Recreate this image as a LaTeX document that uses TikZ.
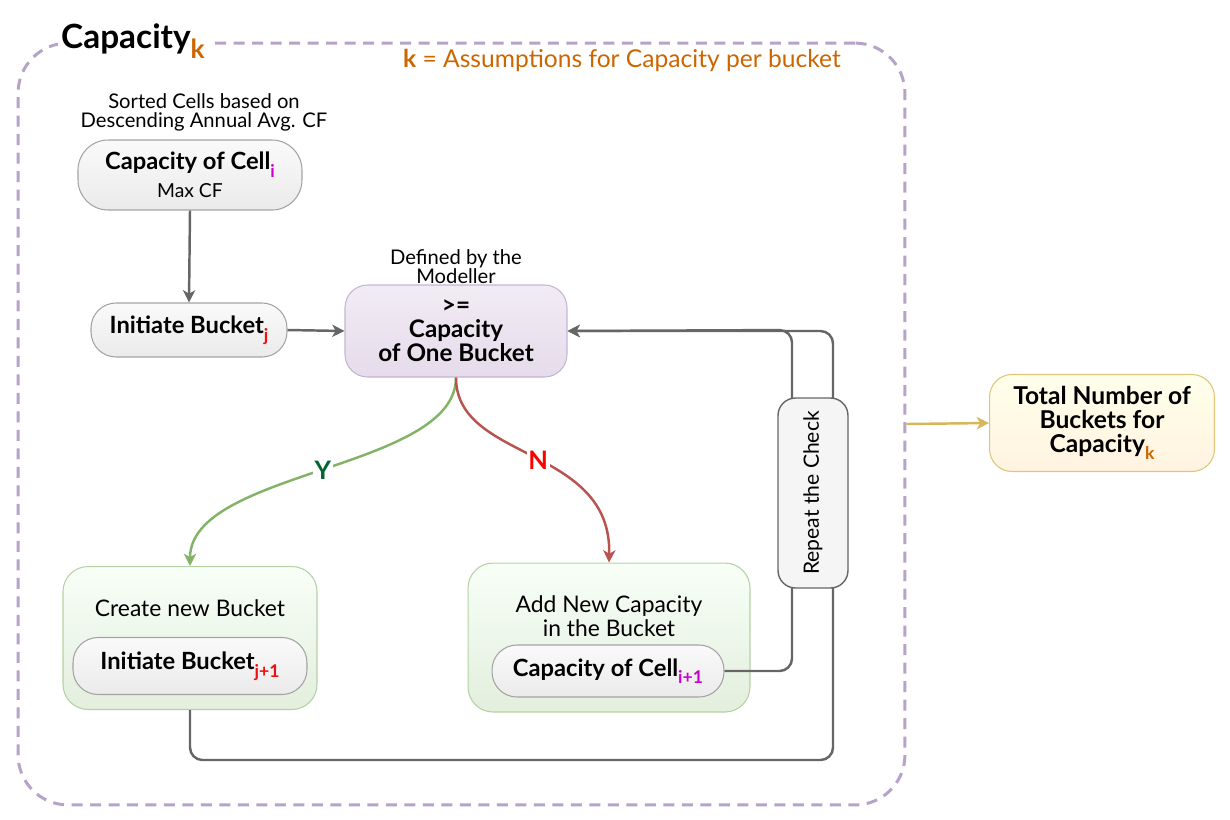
\documentclass[tikz,border=0pt]{standalone}
\usepackage{fontspec}
\setmainfont{Lato}
\usepackage{xcolor}
\usetikzlibrary{arrows.meta,positioning}

\definecolor{framepurple}{HTML}{B5A3C9}
\definecolor{noteorange}{HTML}{CC6600}
\definecolor{cellmag}{HTML}{CC00CC}
\definecolor{bktred}{HTML}{EE1111}
\definecolor{linegray}{HTML}{666666}
\definecolor{pillline}{HTML}{A3A3A3}
\definecolor{checkfill}{HTML}{E1D5E7}
\definecolor{yesgreen}{HTML}{82B366}
\definecolor{yesdark}{HTML}{006633}
\definecolor{nored}{HTML}{B85450}
\definecolor{totalline}{HTML}{D6B656}

% lowered coloured index
\newcommand{\lowidx}[3][10]{\raisebox{-0.32em}{\color{#2}\fontsize{#1}{#1}\selectfont #3}}

\begin{document}
\begin{tikzpicture}[x=0.02cm,y=-0.02cm,
  link/.style={draw=linegray, line width=1.4pt, -{Stealth[length=7pt,width=7pt,inset=2pt]}},
  pill/.style={draw=pillline, line width=0.6pt, top color=white!98!black, bottom color=white!92!black,
    rounded corners=0.5cm, align=center, font=\bfseries\fontsize{13.5}{15}\selectfont},
  checkbox/.style={draw=framepurple!80, line width=0.6pt, top color=checkfill!45!white, bottom color=checkfill!85!white,
    rounded corners=0.45cm, align=center, font=\bfseries\fontsize{13.8}{13.6}\selectfont},
  holder/.style={draw=yesgreen!60, line width=0.6pt, top color=green!3!white, bottom color=yesgreen!22,
    rounded corners=0.5cm},
  plain/.style={align=center, font=\fontsize{11.5}{10.8}\selectfont},
  holdtxt/.style={align=center, font=\fontsize{13}{13.5}\selectfont}]

\useasboundingbox (0,0) rectangle (1230,819);

% outer frame
\node[draw=framepurple, line width=1.7pt, dash pattern=on 0.22cm off 0.15cm,
  rounded corners=1cm, minimum width=17.74cm, minimum height=15.24cm, inner sep=0pt] (frame) at (461.5,424) {};
\node[fill=white, inner sep=2pt, font=\bfseries\fontsize{19}{22}\selectfont] (title) at (133,41)
  {Capacity\lowidx[15]{noteorange}{k}};
\node[text=noteorange, font=\fontsize{14}{16}\selectfont] (note) at (622,60)
  {\textbf{k} = Assumptions for Capacity per bucket};

% first cell
\node[plain] (sortlbl) at (204,112) {Sorted Cells based on\\Descending Annual Avg. CF};
\node[pill, minimum width=4.48cm, minimum height=1.4cm, rounded corners=0.6cm] (celli) at (190,175)
  {Capacity of Cell\lowidx{cellmag}{i}\\[1pt]{\mdseries\fontsize{11}{13}\selectfont Max CF}};
\node[pill, minimum width=3.92cm, minimum height=1.08cm] (initj) at (189,330)
  {Initiate Bucket\lowidx{bktred}{j}};

% check
\node[plain] (deflbl) at (456,267) {Defined by the\\Modeller};
\node[checkbox, minimum width=4.44cm, minimum height=1.84cm] (check) at (456,331)
  {>=\\Capacity\\of One Bucket};

\draw[link] (celli.south) -- (initj.north);
\draw[link] (initj.east) -- (check.west);

% new bucket
\node[holder, minimum width=5.08cm, minimum height=2.86cm] (newbkt) at (190,638) {};
\node[holdtxt] (newlbl) at (190,608) {Create new Bucket};
\node[pill, minimum width=4.68cm, minimum height=1.14cm] (initj1) at (190,666)
  {Initiate Bucket\lowidx{bktred}{j+1}};

% add capacity
\node[holder, minimum width=5.64cm, minimum height=2.98cm] (addcap) at (609,637.5) {};
\node[holdtxt] (addlbl) at (609,616) {Add New Capacity\\in the Bucket};
\node[pill, minimum width=4.64cm, minimum height=1.04cm] (celli1) at (608,671)
  {Capacity of Cell\lowidx{cellmag}{i+1}};

% Y / N branches
\draw[draw=yesgreen, line width=1.4pt, -{Stealth[length=7pt,width=7pt,inset=2pt]}]
  (check.south) .. controls (456,470) and (190,470) .. (newbkt.north)
  node[pos=0.5, fill=white, inner sep=1pt, text=yesdark, font=\bfseries\fontsize{14.5}{16}\selectfont] {Y};
\draw[draw=nored, line width=1.4pt, -{Stealth[length=7pt,width=7pt,inset=2pt]}]
  (check.south) .. controls (456,462) and (612,445) .. (addcap.north)
  node[pos=0.52, fill=white, inner sep=1pt, text=red, font=\bfseries\fontsize{14.5}{16}\selectfont] {N};

% loops back to the check
\coordinate (loopa) at (792,330);
\coordinate (loopb) at (833,760);
\draw[link, rounded corners=0.25cm] (celli1.east) -| (loopa) -- (check.east);
\draw[link, rounded corners=0.25cm] (initj1.south |- newbkt.south) |- (loopb) |- (check.east);

\node[draw=linegray, line width=0.8pt, fill=white!96!black, rounded corners=0.35cm, rotate=90,
  minimum width=3.8cm, minimum height=1.4cm, font=\fontsize{12}{14}\selectfont] (repeat) at (813,493)
  {Repeat the Check};

% result
\node[draw=totalline!80, line width=0.6pt, top color=yellow!8, bottom color=yellow!22!orange!12,
  rounded corners=0.45cm, minimum width=4.5cm, minimum height=1.94cm, align=center,
  font=\bfseries\fontsize{14}{13.6}\selectfont] (total) at (1102,423)
  {Total Number of\\Buckets for\\Capacity\lowidx{noteorange}{k}};
\draw[draw=totalline, line width=1.4pt, -{Stealth[length=7pt,width=7pt,inset=2pt]}] (frame.east) -- (total.west);
\end{tikzpicture}
\end{document}
